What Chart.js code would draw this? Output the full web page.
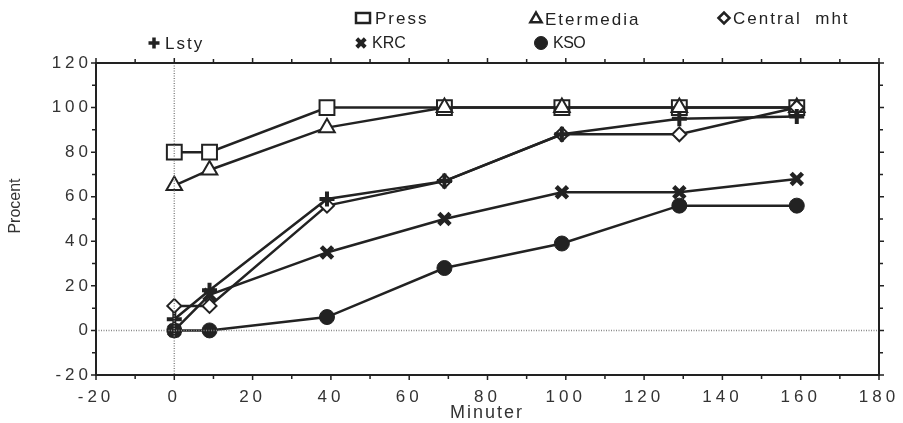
<!DOCTYPE html>
<html>
<head>
<meta charset="utf-8">
<script src="https://cdn.jsdelivr.net/npm/chart.js@4/dist/chart.umd.min.js"></script>
<style>
html, body { margin: 0; padding: 0; background: #fff; }
canvas { display: block; }
</style>
</head>
<body>
<canvas id="chart" width="903" height="423"></canvas>
<script>
// minutes after start
const minutes = [0, 9, 39, 69, 99, 129, 159];

const press = [80, 80, 100, 100, 100, 100, 100];
const etermedia = [65, 72, 91, 100, 100, 100, 100];
const centralMht = [11, 11, 56, 67, 88, 88, 100];
const lsty = [5, 18, 59, 67, 88, 95, 96];
const krc = [0, 16, 35, 50, 62, 62, 68];
const kso = [0, 0, 6, 28, 39, 56, 56];

const xMin = -20, xMax = 180, xStep = 20;
const yMin = -20, yMax = 120, yStep = 20;
const xTitle = "Minuter";
const yTitle = "Procent";

const ink = "#222";
const font = "'Liberation Sans', Arial, Helvetica, sans-serif";

function pts(values) {
    return values.map((v, i) => ({ x: minutes[i], y: v }));
}

function series(label, values, style, radius, fill, width, order) {
    return {
        label: label,
        data: pts(values),
        borderColor: ink,
        borderWidth: 2.5,
        pointStyle: style,
        pointRadius: radius,
        pointHoverRadius: radius,
        pointBackgroundColor: fill,
        pointBorderColor: ink,
        pointBorderWidth: width,
        order: order
    };
}

const datasets = [
    series("Press", press, "rect", 10.5, "#fff", 2, 6),
    series("Etermedia", etermedia, "triangle", 9, "#fff", 2, 5),
    series("Central  mht", centralMht, "rectRot", 7, "#fff", 2, 4),
    series("Lsty", lsty, "cross", 7.5, ink, 4, 3),
    series("KRC", krc, "crossRot", 8, ink, 4.5, 2),
    series("KSO", kso, "circle", 7.5, ink, 1, 1)
];

// legend slots: marker x, text x, y, marker radius, marker line, font size, spacing
const legendSlots = [
    [363, 375, 18, 7, 2.5, 17, 2],
    [536, 545, 19, 6.5, 2.5, 17, 2],
    [724, 733, 18, 5.5, 2.5, 17, 2],
    [154, 165, 43, 5.5, 3.5, 17, 2],
    [361, 372, 43, 6, 4, 16, 0],
    [541, 553, 43, 6.5, 1, 16, -0.5]
];

const spacing = {
    id: "spacing",
    beforeLayout(chart) { chart.ctx.letterSpacing = "4px"; },
    beforeDraw(chart) { chart.ctx.letterSpacing = "4px"; }
};

const frame = {
    id: "frame",
    afterDraw(chart) {
        const ctx = chart.ctx;
        const xs = chart.scales.x, ys = chart.scales.y;
        const a = chart.chartArea;
        ctx.save();
        ctx.letterSpacing = "0px";

        // dotted zero lines
        ctx.strokeStyle = "#888";
        ctx.lineWidth = 1.5;
        ctx.setLineDash([1, 1.5]);
        ctx.beginPath();
        const x0 = xs.getPixelForValue(0), y0 = ys.getPixelForValue(0);
        ctx.moveTo(x0, a.top); ctx.lineTo(x0, a.bottom);
        ctx.moveTo(a.left, y0); ctx.lineTo(a.right, y0);
        ctx.stroke();
        ctx.setLineDash([]);

        // box
        ctx.strokeStyle = ink;
        ctx.lineWidth = 2;
        ctx.strokeRect(a.left, a.top, a.right - a.left, a.bottom - a.top);

        // ticks, major and minor
        ctx.lineWidth = 1.5;
        ctx.beginPath();
        for (let v = xMin; v <= xMax; v += xStep / 2) {
            const px = xs.getPixelForValue(v);
            const len = (v % xStep === 0) ? 5 : 4;
            ctx.moveTo(px, a.bottom); ctx.lineTo(px, a.bottom + len);
            ctx.moveTo(px, a.top); ctx.lineTo(px, a.top - len);
        }
        for (let v = yMin; v <= yMax; v += yStep / 2) {
            const py = ys.getPixelForValue(v);
            const len = (v % yStep === 0) ? 5 : 4;
            ctx.moveTo(a.left, py); ctx.lineTo(a.left - len, py);
            ctx.moveTo(a.right, py); ctx.lineTo(a.right + len, py);
        }
        ctx.stroke();

        // axis titles
        ctx.fillStyle = "#333";
        ctx.textAlign = "center";
        ctx.textBaseline = "middle";
        ctx.font = "18px " + font;
        ctx.letterSpacing = "2px";
        ctx.fillText(xTitle, 487, 413);
        ctx.letterSpacing = "0px";
        ctx.font = "16px " + font;
        ctx.save();
        ctx.translate(16, 206);
        ctx.rotate(-Math.PI / 2);
        ctx.fillText(yTitle, 0, 0);
        ctx.restore();

        // legend
        chart.data.datasets.forEach((ds, i) => {
            const s = legendSlots[i];
            ctx.fillStyle = ds.pointBackgroundColor;
            ctx.strokeStyle = ink;
            ctx.lineWidth = s[4];
            Chart.helpers.drawPointLegend(ctx, {
                pointStyle: ds.pointStyle,
                radius: s[3],
                borderWidth: s[4],
                rotation: 0
            }, s[0], s[2], ds.pointStyle === "rect" ? 14 : 0);
            ctx.letterSpacing = s[6] + "px";
            ctx.fillStyle = ink;
            ctx.font = s[5] + "px " + font;
            ctx.textBaseline = "middle";
            ctx.textAlign = "left";
            ctx.fillText(ds.label, s[1], s[2] + 1);
        });
        ctx.restore();
    }
};

new Chart(document.getElementById("chart"), {
    type: "line",
    data: { datasets: datasets },
    options: {
        responsive: false,
        animation: false,
        layout: { padding: { top: 63, right: 24, left: 0, bottom: 0 } },
        plugins: {
            legend: { display: false },
            tooltip: { enabled: false }
        },
        scales: {
            x: {
                type: "linear",
                min: xMin,
                max: xMax,
                afterFit(scale) {
                    scale.height = 48;
                    scale.paddingLeft = 0;
                    scale.paddingRight = 0;
                },
                ticks: { stepSize: xStep, color: "#333", padding: 12, font: { size: 17, family: font } },
                grid: { display: false, drawTicks: false },
                border: { display: false }
            },
            y: {
                min: yMin,
                max: yMax,
                afterFit(scale) { scale.width = 96; },
                ticks: { stepSize: yStep, color: "#333", padding: 4, font: { size: 17, family: font } },
                grid: { display: false, drawTicks: false },
                border: { display: false }
            }
        }
    },
    plugins: [spacing, frame]
});
</script>
</body>
</html>
